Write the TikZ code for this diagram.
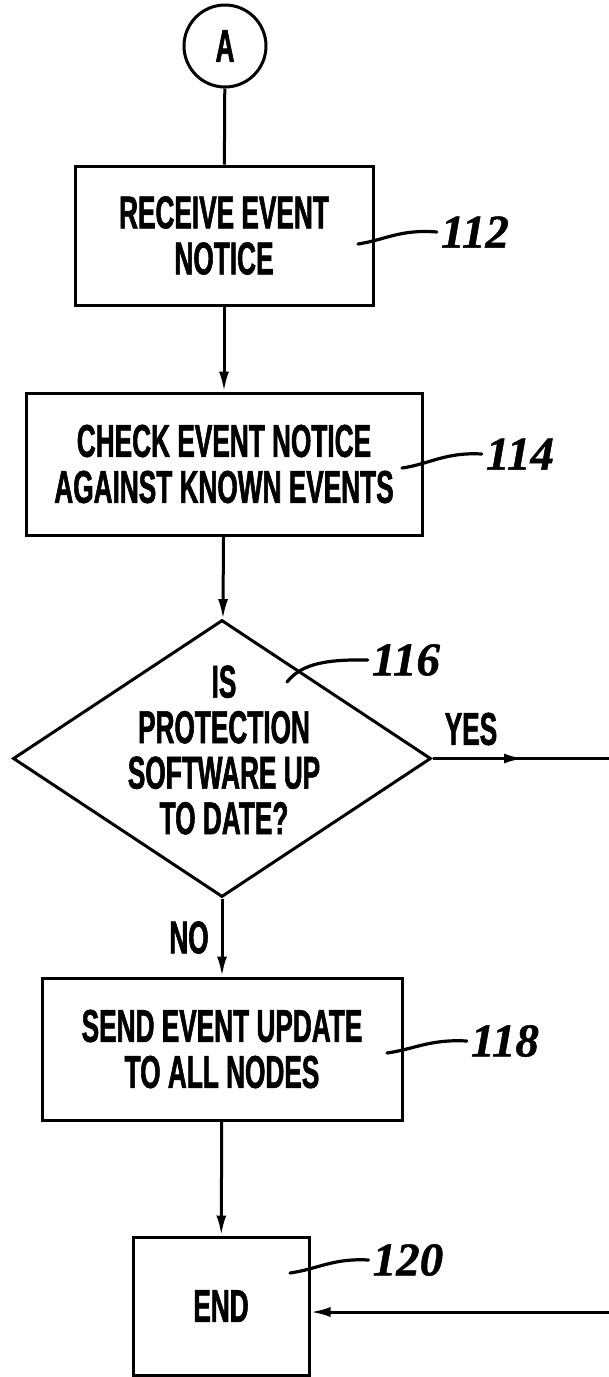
\documentclass[tikz,border=0pt]{standalone}
\usepackage{fontspec}
\newfontfamily\boxfont[FakeStretch=0.57,FakeBold=1.2]{Liberation Sans}
\newfontfamily\labfont[FakeBold=1]{Liberation Serif}
\usetikzlibrary{shapes.geometric,arrows.meta}
\begin{document}
\begin{tikzpicture}[x=1pt,y=-1pt,
  conn/.style={line width=3pt},
  arr/.style={conn,-{Latex[length=20pt,width=10pt]}},
  flow/.style={draw,line width=3pt,rectangle,inner sep=0pt,align=center,
    font=\boxfont\bfseries\fontsize{46}{46}\selectfont},
  word/.style={inner sep=0pt,align=center,font=\boxfont\bfseries\fontsize{46}{45.5}\selectfont},
  lab/.style={inner sep=4pt,font=\labfont\bfseries\itshape\fontsize{47}{47}\selectfont},
  leader/.style={line width=3.2pt,line cap=round}]
\useasboundingbox (0,0) rectangle (609,1377);
\fill[white] (0,0) rectangle (609,1377);

\node[draw,circle,line width=3pt,minimum size=82pt,inner sep=0pt,
  font=\boxfont\bfseries\fontsize{46}{46}\selectfont] (A) at (225,46) {A};
\node[flow,minimum width=298pt,minimum height=139pt] (b112) at (224,235.5) {RECEIVE EVENT\\NOTICE};
\node[flow,minimum width=396pt,minimum height=142pt] (b114) at (224,464) {CHECK EVENT NOTICE\\AGAINST KNOWN EVENTS};
\node[draw,diamond,line width=3pt,inner sep=0pt,minimum width=418pt,minimum height=277pt,aspect=1.509] (d) at (222,758.5) {};
\node[word] (dtext) at (224,750) {IS\\PROTECTION\\SOFTWARE UP\\TO DATE?};
\node[flow,minimum width=360pt,minimum height=142pt] (b118) at (222,1049) {SEND EVENT UPDATE\\TO ALL NODES};
\node[flow,minimum width=176pt,minimum height=138pt] (end) at (221,1306) {END};

\node[word] (yes) at (471,729) {YES};
\node[word] (no) at (189,937.5) {NO};

% connectors
\draw[conn] (A) -- (b112);
\draw[arr] (b112) -- (b114);
\draw[arr] (b114) -- (d);
\draw[arr] (d) -- (b118);
\draw[arr] (b118) -- (end);
\coordinate (yesmid) at (524,758.5);
\coordinate (yesend) at (609,758.5);
\draw[conn] (d.east) -- (yesend);
\draw[arr] (d.east) -- (yesmid);
\coordinate (retstart) at (609,1312);
\draw[arr] (retstart) -- (retstart -| end.east);

% reference labels
\node[lab] (l112) at (475,232) {112};
\node[lab] (l114) at (520,454) {114};
\node[lab] (l116) at (406,660) {116};
\node[lab] (l118) at (505,1041) {118};
\node[lab] (l120) at (408,1260) {120};
\coordinate (s112) at (358,244);
\coordinate (s114) at (402,468);
\coordinate (s116) at (287,682);
\coordinate (s118) at (387,1053);
\coordinate (s120) at (290,1273);
\draw[leader] (s112) .. controls (385,240) and (400,229) .. (l112.west);
\draw[leader] (s114) .. controls (430,464) and (445,452) .. (l114.west);
\draw[leader] (s116) .. controls (300,666) and (320,659) .. (l116.west);
\draw[leader] (s118) .. controls (415,1049) and (430,1039) .. (l118.west);
\draw[leader] (s120) .. controls (318,1269) and (333,1258) .. (l120.west);
\end{tikzpicture}
\end{document}
